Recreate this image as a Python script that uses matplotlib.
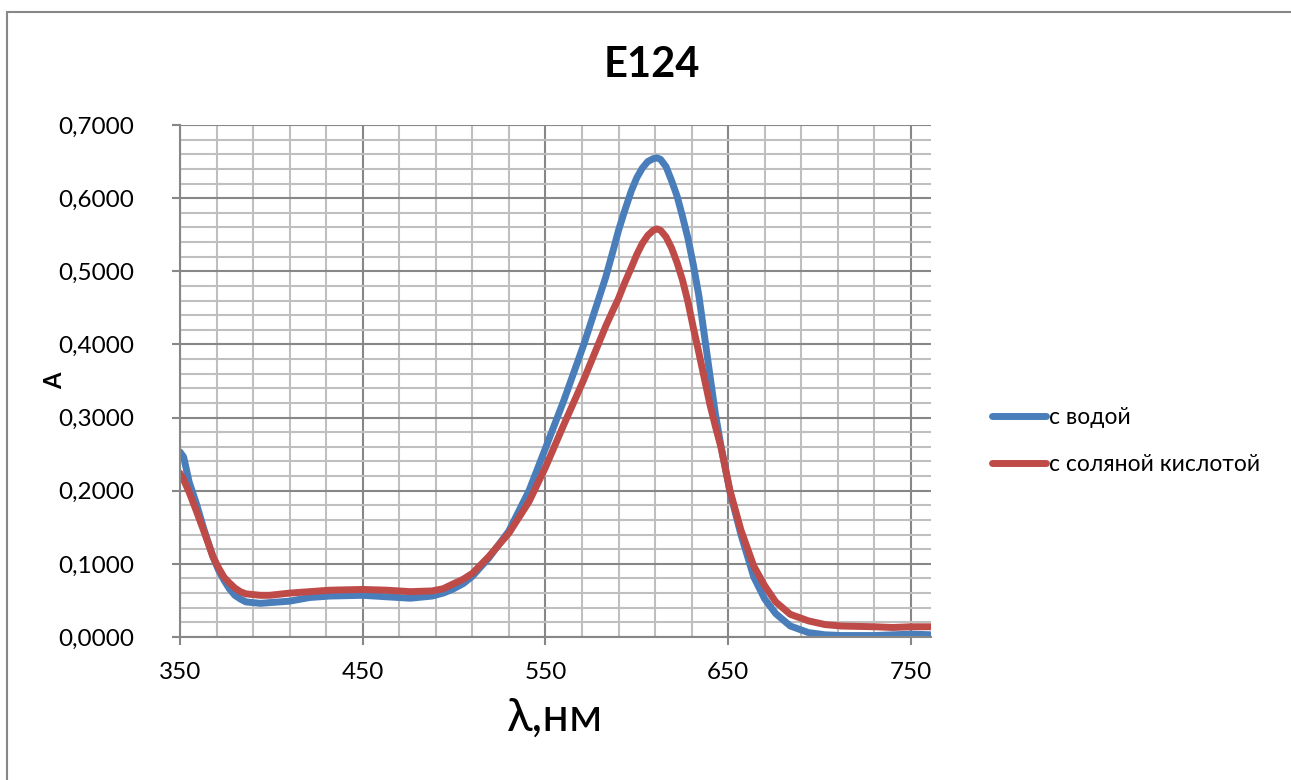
import matplotlib
matplotlib.use("Agg")
import matplotlib.pyplot as plt
import matplotlib.ticker as ticker
from matplotlib.patches import Rectangle

# wavelength (nm) and absorbance
wl = [350, 352, 355, 359, 363, 368, 371, 374, 377, 380, 383, 386, 390, 394,
      399, 410, 421, 432, 450, 463, 476, 488, 494, 499, 505, 510, 519, 530,
      541, 550, 560, 571, 583, 587, 590, 593, 597, 600, 603, 606, 609, 611,
      613, 616, 619, 622, 625, 628, 631, 634, 637, 640, 643, 646, 651, 657,
      664, 670, 676, 684, 694, 703, 712, 730, 740, 750, 761]
a_water = [0.253, 0.246, 0.212, 0.182, 0.148, 0.110, 0.092, 0.078, 0.066, 0.057,
           0.052, 0.048, 0.047, 0.046, 0.047, 0.049, 0.054, 0.056, 0.057, 0.055,
           0.053, 0.056, 0.060, 0.065, 0.073, 0.083, 0.108, 0.145, 0.200, 0.258,
           0.323, 0.400, 0.492, 0.528, 0.556, 0.580, 0.610, 0.628, 0.641, 0.650,
           0.654, 0.655, 0.653, 0.643, 0.624, 0.603, 0.575, 0.545, 0.508, 0.466,
           0.412, 0.358, 0.305, 0.262, 0.198, 0.140, 0.082, 0.052, 0.032, 0.015,
           0.006, 0.003, 0.002, 0.002, 0.003, 0.004, 0.003]
a_hcl = [0.224, 0.215, 0.198, 0.172, 0.145, 0.110, 0.095, 0.082, 0.074, 0.067,
         0.062, 0.059, 0.058, 0.057, 0.057, 0.060, 0.062, 0.064, 0.065, 0.064,
         0.062, 0.063, 0.066, 0.072, 0.079, 0.087, 0.110, 0.142, 0.185, 0.232,
         0.290, 0.352, 0.425, 0.447, 0.463, 0.482, 0.505, 0.523, 0.538, 0.549,
         0.556, 0.558, 0.556, 0.547, 0.532, 0.512, 0.488, 0.458, 0.422, 0.388,
         0.353, 0.318, 0.288, 0.260, 0.200, 0.146, 0.097, 0.070, 0.048, 0.031,
         0.022, 0.017, 0.015, 0.014, 0.013, 0.014, 0.014]

plt.rcParams["font.family"] = ["Lato", "DejaVu Sans"]

fig = plt.figure(figsize=(12.91, 7.80), dpi=100)
ax = fig.add_axes([180/1291, 1-637/780, (931-180)/1291, (637-125)/780])

ax.plot(wl, a_water, color="#4a7ebb", lw=5, label="с водой", solid_capstyle="round")
ax.plot(wl, a_hcl, color="#be4b48", lw=5, label="с соляной кислотой", solid_capstyle="round")

ax.set_xlim(350, 761)
ax.set_ylim(0, 0.7)
ax.xaxis.set_major_locator(ticker.MultipleLocator(100, offset=50))
ax.xaxis.set_minor_locator(ticker.MultipleLocator(20, offset=10))
ax.yaxis.set_major_locator(ticker.MultipleLocator(0.1))
ax.yaxis.set_minor_locator(ticker.MultipleLocator(0.02))
ax.yaxis.set_major_formatter(ticker.FuncFormatter(lambda v, p: f"{v:.4f}".replace(".", ",")))
ax.xaxis.set_major_formatter(ticker.FuncFormatter(lambda v, p: f"{v:.0f}"))

ax.grid(which="major", color="#878787", lw=1.5)
ax.grid(which="minor", color="#bfbfbf", lw=1.5)
ax.set_axisbelow(True)
for s in ("top", "right"):
    ax.spines[s].set_visible(False)
for s in ("left", "bottom"):
    ax.spines[s].set_color("#878787")
    ax.spines[s].set_linewidth(1.5)
ax.tick_params(which="major", length=6, width=1.5, color="#878787", labelsize=17.5)
ax.tick_params(axis="y", pad=27)
ax.tick_params(axis="x", pad=12)
ax.tick_params(which="minor", length=0)

fig.text(652/1291, 1-65/780, "E124", fontsize=30, fontweight="bold", ha="center", va="center")
ax.set_xlabel("λ,нм", fontsize=34, labelpad=10)
ax.set_ylabel("A", fontsize=17, fontweight="bold")
ax.yaxis.set_label_coords(-0.152, 0.5)

ax.legend(loc="center left", bbox_to_anchor=(992/1291, 1-441/780),
          bbox_transform=fig.transFigure, borderpad=0, borderaxespad=0,
          frameon=False, fontsize=16.5, handlelength=2.35, handletextpad=0.15,
          labelspacing=1.1)

fig.add_artist(Rectangle((7/1291, -0.1), 1.2, 1.1 - 12/780, transform=fig.transFigure,
                         fill=False, edgecolor="#878787", lw=1.5))

fig.savefig("out.png", dpi=100)
